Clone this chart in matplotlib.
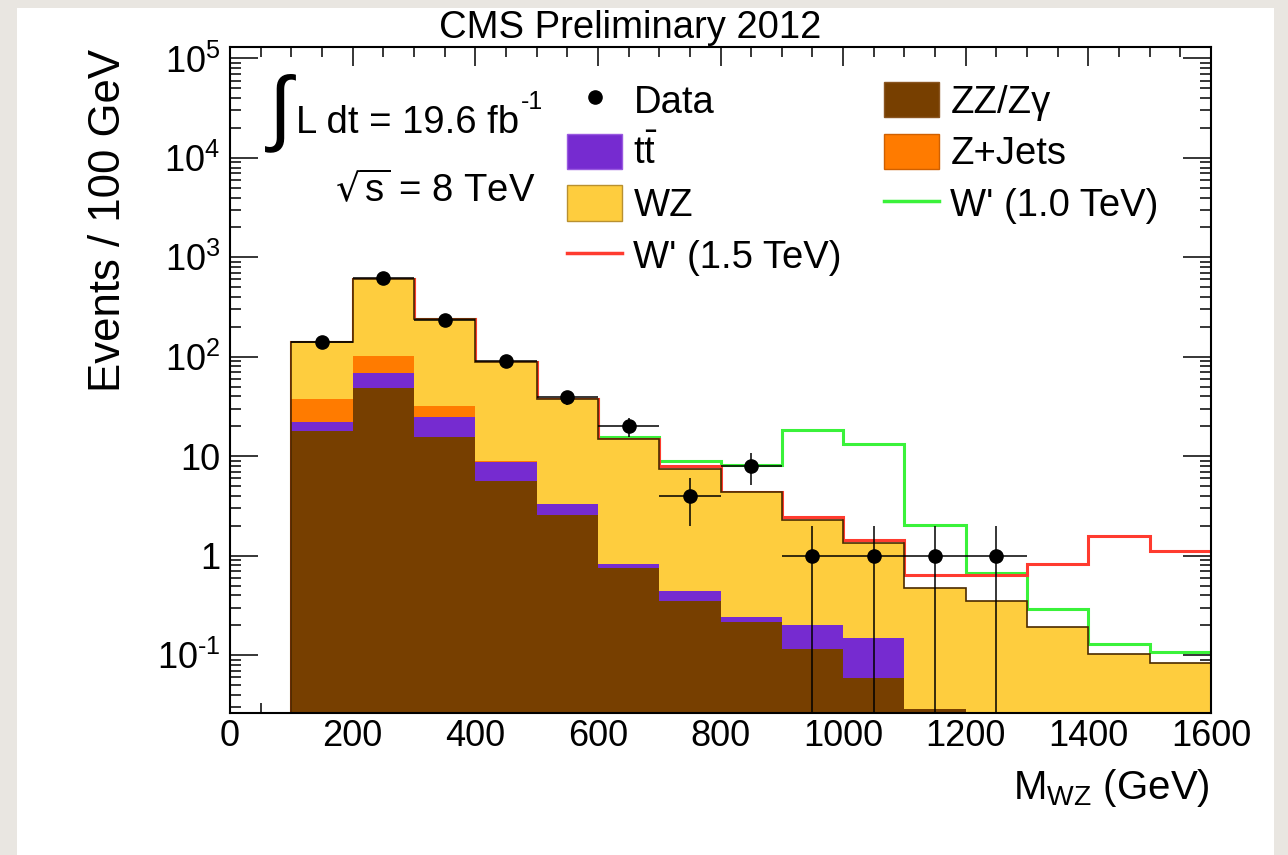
import numpy as np
import matplotlib
matplotlib.use('Agg')
import matplotlib.pyplot as plt
from matplotlib.patches import Rectangle, Patch
from matplotlib.lines import Line2D
from matplotlib.ticker import MultipleLocator, FixedLocator, FuncFormatter, NullFormatter

plt.rcParams['font.family'] = ['Liberation Sans', 'DejaVu Sans']
plt.rcParams['mathtext.default'] = 'regular'

# 100 GeV bins from 0 to 1600 GeV
edges = np.arange(0, 1700, 100)

# background expectations per bin (stacked bottom to top)
zz = np.array([0, 17.9, 49, 15.7, 5.7, 2.57, 0.745, 0.348, 0.213, 0.116, 0.059, 0.029, 0, 0, 0, 0])
ttbar = np.array([0, 4.3, 20.5, 9.1, 3.15, 0.73, 0.08, 0.095, 0.03, 0.084, 0.089, 0, 0, 0, 0, 0])
zjets = np.array([0, 15.2, 32.5, 7.2, 0.2, 0, 0, 0, 0, 0, 0, 0, 0, 0, 0, 0])
wz = np.array([0, 102.6, 507, 208, 79, 34.1, 14.2, 7.05, 4.1, 2.1, 1.18, 0.447, 0.354, 0.19, 0.102, 0.084])

# W' signal on top of the summed background
wp1000 = np.array([0, 0, 0, 0, 0, 0, 0.6, 1.5, 3.9, 15.9, 11.8, 1.57, 0.32, 0.10, 0.026, 0.024])
wp1500 = np.array([0, 0, 0, 0, 0, 0, 0, 0.4, 0.06, 0.13, 0.11, 0.17, 0.28, 0.63, 1.48, 1.04])

# observed events
data_x = np.array([150, 250, 350, 450, 550, 650, 750, 850, 950, 1050, 1150, 1250])
data_n = np.array([140, 620, 236, 90, 39, 20, 4, 8, 1, 1, 1, 1])

c_zz = '#773f00'
c_tt = '#762bd0'
c_zj = '#ff7b00'
c_wz = '#fecd3e'
c_green = '#3af23a'
c_red = '#ff3b2f'

W, H = 1288, 855
fig = plt.figure(figsize=(W / 100, H / 100), dpi=100)
fig.patch.set_facecolor('#e9e6e1')
fig.add_artist(Rectangle((17 / W, 0), (1274 - 17) / W, (H - 8) / H, transform=fig.transFigure,
                         facecolor='white', edgecolor='none', zorder=0))

ax = fig.add_axes([230 / W, 1 - 713.3 / H, 981 / W, (713.3 - 47.5) / H])
ax.set_yscale('log')

floor = 1e-3
base = np.zeros(len(zz))
for vals, col in [(zz, c_zz), (ttbar, c_tt), (zjets, c_zj), (wz, c_wz)]:
    top = base + vals
    ax.stairs(np.maximum(top, floor), edges, baseline=np.maximum(base, floor),
              fill=True, color=col, lw=0, zorder=2)
    base = top
total = base

ax.stairs(np.maximum(total + wp1000, floor), edges, baseline=None, color=c_green, lw=2.2, zorder=1.5)
ax.stairs(np.maximum(total + wp1500, floor), edges, baseline=None, color=c_red, lw=2.2, zorder=1.6)
ax.stairs(np.maximum(total, floor), edges, baseline=None, color='#4a2a00', lw=1.2, zorder=2.5)

err = np.sqrt(data_n)
err_lo = np.minimum(err, data_n - 1e-4)
ax.errorbar(data_x, data_n, xerr=50, yerr=[err_lo, err], fmt='o', color='black',
            ms=9.5, lw=1.1, capsize=0, zorder=4)

ax.set_xlim(0, 1600)
ax.set_ylim(0.026, 1.29e5)

decades = 10.0 ** np.arange(-1, 6)
minors = np.concatenate([d * np.arange(2, 10) for d in 10.0 ** np.arange(-2, 5)])
minors = minors[(minors > 0.026) & (minors < 1.29e5)]
ax.xaxis.set_major_locator(MultipleLocator(200))
ax.xaxis.set_minor_locator(MultipleLocator(50))
ax.yaxis.set_major_locator(FixedLocator(decades))
ax.yaxis.set_minor_locator(FixedLocator(minors))
ax.yaxis.set_minor_formatter(NullFormatter())


def log_label(v, pos):
    e = int(round(np.log10(v)))
    if e == 0:
        return '1'
    if e == 1:
        return '10'
    return r'$10^{%s}$' % ('\u2010' + str(-e) if e < 0 else str(e))


ax.yaxis.set_major_formatter(FuncFormatter(log_label))
ax.tick_params(which='both', direction='in', top=True, right=True, width=1.1, color='black')
ax.tick_params(axis='x', which='major', length=14, pad=4, labelsize=26)
ax.tick_params(axis='x', which='minor', length=7)
ax.tick_params(axis='y', which='major', length=20, pad=7, labelsize=26)
ax.tick_params(axis='y', which='minor', length=8)
for s in ax.spines.values():
    s.set_linewidth(1.5)

# titles and axis labels
fig.text(630 / W, 1 - 38 / H, 'CMS Preliminary 2012', ha='center', va='baseline', fontsize=27.5)
fig.text(108 / W, 1 - 49 / H, 'Events / 100 GeV', rotation=90, ha='center', va='top', fontsize=31.5)
fig.text(1210 / W, 1 - 799 / H, r'M$_{WZ}$ (GeV)', ha='right', va='baseline', fontsize=29)

# luminosity and energy
fig.text(281 / W, 1 - 114 / H, r'$\int$', ha='center', va='center', fontsize=60, math_fontfamily='cm')
fig.text(296 / W, 1 - 132.7 / H, 'L dt = 19.6 fb', ha='left', va='baseline', fontsize=27.5)
fig.text(521 / W, 1 - 109 / H, '-1', ha='left', va='baseline', fontsize=18)
fig.text(335 / W, 1 - 201.7 / H, r'$\sqrt{s}$ = 8 TeV', ha='left', va='baseline', fontsize=27.5)

# legend
h_data = Line2D([], [], marker='o', color='black', ls='none', ms=9.5)
h_tt = Patch(facecolor=c_tt, edgecolor='#9a5ae0', lw=1)
h_wz = Patch(facecolor=c_wz, edgecolor='#b89030', lw=1)
h_red = Line2D([], [], color=c_red, lw=2.5)
h_zz = Patch(facecolor=c_zz, edgecolor='#8a5520', lw=1)
h_zj = Patch(facecolor=c_zj, edgecolor='#d06000', lw=1)
h_green = Line2D([], [], color=c_green, lw=2.5)

leg_kw = dict(loc='upper left', bbox_transform=fig.transFigure, frameon=False, fontsize=27.5,
              handlelength=1.44, handleheight=1.05, handletextpad=0.3, labelspacing=0.34,
              borderpad=0, borderaxespad=0)
leg1 = ax.legend([h_data, h_tt, h_wz, h_red], ['Data', r'$t\bar{t}$', 'WZ', "W' (1.5 TeV)"],
                 bbox_to_anchor=(567 / W, 1 - 82 / H), **leg_kw)
ax.add_artist(leg1)
ax.legend([h_zz, h_zj, h_green], ['ZZ/Z\u03b3', 'Z+Jets', "W' (1.0 TeV)"],
          bbox_to_anchor=(884 / W, 1 - 82 / H), **leg_kw)

fig.savefig('out.png', dpi=100, facecolor=fig.get_facecolor())
